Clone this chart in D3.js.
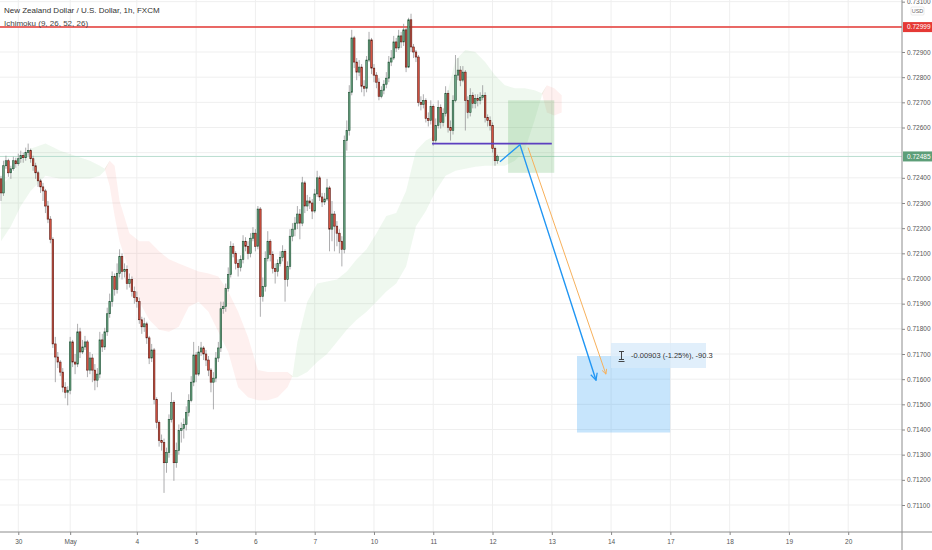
<!DOCTYPE html>
<html>
<head>
<meta charset="utf-8">
<script src="https://cdn.jsdelivr.net/npm/d3@7"></script>
<style>
  body { margin: 0; background: #fff; }
  svg { display: block; }
  text { font-family: "Liberation Sans Narrow", "Liberation Sans", sans-serif; }
</style>
</head>
<body>
<svg id="chart" width="932" height="550"></svg>
<script>
// prices are kept in 1e-5 units (pipettes)
const PT = 1e-5;
const firstOpen = 72396;

const closes = [
  72340,72448,72468,72420,72436,72468,72456,72476,72488,72480,
  72500,72508,72476,72448,72420,72388,72364,72348,72288,72236,
  72156,71740,71688,71668,71628,71568,71548,71556,71748,71668,
  71660,71788,71708,71728,71748,71636,71684,71636,71596,71620,
  71756,71728,71788,71860,71908,72008,71956,72020,72088,72028,
  72036,71980,71996,71948,71924,71908,71836,71808,71820,71764,
  71684,71716,71520,71428,71356,71348,71268,71308,71440,71508,
  71268,71316,71396,71404,71420,71468,71516,71588,71696,71620,
  71708,71724,71700,71676,71636,71588,71604,71684,71724,71880,
  71888,71960,72016,72128,72100,72060,72044,72076,72148,72128,
  72100,72160,72180,72128,72276,71928,71968,72080,72148,72096,
  72040,72028,72060,72084,72108,71996,72048,72168,72196,72220,
  72256,72220,72380,72288,72308,72300,72268,72336,72400,72324,
  72304,72316,72360,72196,72256,72208,72180,72148,72116,72548,
  72588,72740,72956,72860,72820,72840,72764,72756,72868,72948,
  72836,72808,72780,72724,72748,72772,72796,72860,72876,72940,
  72916,72964,72940,72988,72840,73028,72920,72900,72880,72700,
  72692,72708,72636,72628,72684,72548,72608,72680,72620,72656,
  72736,72600,72588,72708,72808,72828,72788,72820,72708,72660,
  72728,72696,72716,72708,72720,72728,72640,72628,72608,72516,
  72468,72485
];

const highs = [
  72408,72468,72488,72476,72448,72484,72480,72496,72508,72500,
  72520,72536,72516,72488,72460,72428,72396,72380,72356,72308,
  72248,72164,71768,71708,71676,71644,71588,71572,71768,71756,
  71700,71820,71804,71756,71772,71756,71708,71700,71660,71644,
  71788,71780,71804,71884,71940,72028,72020,72060,72116,72100,
  72060,72052,72020,72008,71968,71948,71924,71848,71844,71828,
  71772,71740,71724,71528,71436,71380,71364,71328,71460,71548,
  71516,71348,71420,71428,71444,71492,71540,71612,71748,71708,
  71732,71748,71732,71716,71692,71644,71628,71708,71748,71908,
  71908,71980,72044,72148,72140,72108,72076,72092,72172,72164,
  72148,72180,72204,72196,72288,72284,72004,72108,72188,72156,
  72108,72060,72076,72108,72132,72116,72068,72196,72220,72244,
  72288,72276,72404,72388,72332,72324,72316,72356,72428,72408,
  72340,72340,72396,72368,72308,72268,72228,72196,72168,72568,
  72628,72768,72988,72964,72876,72868,72852,72788,72884,72980,
  72956,72852,72820,72796,72764,72788,72820,72884,72908,72964,
  72956,72988,72980,73012,72996,73036,73052,72932,72908,72888,
  72724,72732,72716,72660,72708,72692,72636,72708,72692,72676,
  72764,72748,72628,72728,72888,72876,72844,72844,72828,72724,
  72756,72740,72732,72732,72740,72768,72740,72652,72644,72620,
  72524,72492
];

const lows = [
  72308,72328,72436,72404,72396,72428,72440,72448,72460,72460,
  72468,72488,72460,72428,72396,72364,72340,72308,72260,72220,
  72140,71724,71588,71644,71612,71548,71524,71496,71540,71648,
  71620,71648,71684,71700,71716,71608,71620,71588,71556,71568,
  71604,71708,71716,71772,71844,71888,71932,71940,72004,71996,
  72004,71956,71964,71928,71900,71884,71820,71780,71788,71740,
  71660,71668,71500,71404,71332,71316,71148,71228,71288,71428,
  71196,71248,71300,71348,71364,71396,71452,71508,71572,71588,
  71612,71692,71676,71652,71612,71548,71480,71588,71668,71708,
  71860,71868,71948,72004,72084,72036,72008,72028,72060,72108,
  72076,72084,72148,72108,72116,71848,71908,71948,72068,72068,
  72020,71980,72008,72048,72068,71908,71968,72036,72148,72168,
  72196,72156,72208,72260,72268,72276,72236,72260,72324,72308,
  72284,72292,72308,72108,72148,72108,72128,72100,72048,72100,
  72508,72568,72728,72836,72788,72804,72740,72724,72740,72860,
  72812,72780,72756,72708,72716,72732,72756,72780,72844,72868,
  72900,72908,72916,72924,72820,72836,72900,72876,72860,72684,
  72668,72676,72620,72604,72612,72528,72540,72596,72596,72604,
  72644,72580,72548,72572,72700,72788,72764,72780,72588,72636,
  72644,72676,72676,72684,72692,72708,72620,72604,72588,72500,
  72448,72456
];

// Ichimoku cloud (leading spans, already shifted), sampled by bar index
const cloudBars = [0,4,8,12,18,24,30,36,40,42,44,46,48,52,56,60,64,68,72,76,80,84,88,92,96,100,104,108,112,116,118,
  120,124,128,132,136,140,144,148,152,156,160,164,166,168,172,176,180,184,188,192,196,200,204,208,212,216,219,221,224,227];
const spanA = [72368,72408,72468,72516,72536,72508,72488,72468,72448,72436,72368,72248,72148,72028,71908,71836,71796,71788,71808,71888,71908,71868,71788,71708,71568,71528,71516,71516,71528,71568,71612,
  71748,71908,71980,71988,71996,72028,72076,72116,72180,72248,72260,72348,72428,72508,72548,72568,72708,72868,72908,72900,72860,72808,72768,72756,72756,72748,72736,72660,72648,72660];
const spanB = [72148,72208,72288,72348,72408,72396,72396,72396,72408,72428,72468,72448,72308,72180,72148,72148,72108,72076,72060,72044,72028,72020,72008,71948,71868,71768,71636,71628,71628,71628,71608,
  71608,71628,71668,71700,71748,71796,71836,71868,71908,71948,71980,72048,72128,72208,72268,72348,72408,72428,72436,72444,72448,72448,72448,72468,72508,72628,72728,72768,72756,72728];

// axis labels
const dayLabels = ["30","May","4","5","6","7","10","11","12","13","14","17","18","19","20"];
const dayBars = [7,28,55,79,103,127,151,175,199,223,247,271,295,319,343];
const priceTicks = d3.range(711, 732).map(v => v / 1000);

// drawings (bar index, price)
const resistance = 0.72999;
const lastPrice = 0.72485;
const neckline = { from: 174.5, to: 223, price: 0.72536 };
const longBox = { from: 205.3, to: 224, top: 0.72708, bottom: 0.72420 };
const forecastPath = [[202, 0.72464], [210.1, 0.72532], [240.9, 0.71596]];
const altPath = [[213.4, 0.72520], [244.9, 0.71620]];
const measureBox = { from: 233.2, to: 270.9, top: 0.71692, bottom: 0.71388 };
const measureText = "-0.00903 (-1.25%), -90.3";

const W = 932, H = 550, axisX = 902, axisY = 532;
const svg = d3.select("#chart");

const x = d3.scaleLinear().domain([0, 100]).range([1, 248]);
const y = d3.scaleLinear().domain([0.711, 0.729]).range([505, 52]);

svg.append("rect").attr("width", W).attr("height", H).attr("fill", "white");

svg.append("defs").append("clipPath").attr("id", "plot")
  .append("rect").attr("width", axisX).attr("height", axisY);

const plot = svg.append("g").attr("clip-path", "url(#plot)");

// grid
plot.append("g").selectAll("line").data(priceTicks).join("line")
  .attr("x1", 0).attr("x2", axisX)
  .attr("y1", d => y(d)).attr("y2", d => y(d))
  .attr("stroke", "#efefef").attr("stroke-width", 1);
plot.append("g").selectAll("line").data(dayBars).join("line")
  .attr("x1", d => x(d)).attr("x2", d => x(d))
  .attr("y1", 0).attr("y2", axisY)
  .attr("stroke", "#efefef").attr("stroke-width", 1);

// cloud: green where span A above span B, red otherwise
const cloud = cloudBars.map((b, i) => ({ b, a: spanA[i] * PT, s: spanB[i] * PT }));
plot.append("path").datum(cloud)
  .attr("fill", "rgba(76,175,80,0.09)")
  .attr("d", d3.area().x(d => x(d.b)).y0(d => y(d.s)).y1(d => y(Math.max(d.a, d.s))));
plot.append("path").datum(cloud)
  .attr("fill", "rgba(244,67,54,0.08)")
  .attr("d", d3.area().x(d => x(d.b)).y0(d => y(d.a)).y1(d => y(Math.max(d.a, d.s))));

// resistance + last price lines
plot.append("line")
  .attr("x1", 0).attr("x2", axisX).attr("y1", y(resistance)).attr("y2", y(resistance))
  .attr("stroke", "#e53935").attr("stroke-width", 1.5);
plot.append("line")
  .attr("x1", 0).attr("x2", axisX).attr("y1", y(lastPrice)).attr("y2", y(lastPrice))
  .attr("stroke", "#b9ddd0").attr("stroke-width", 1);

// candles
const bars = d3.range(closes.length).map(i => ({
  i,
  o: (i === 0 ? firstOpen : closes[i - 1]) * PT,
  c: closes[i] * PT,
  h: highs[i] * PT,
  l: lows[i] * PT
}));

const candles = plot.append("g").selectAll("g").data(bars).join("g");
candles.append("line")
  .attr("x1", d => x(d.i)).attr("x2", d => x(d.i))
  .attr("y1", d => y(d.h)).attr("y2", d => y(d.l))
  .attr("stroke", "#8a8a8c").attr("stroke-width", 0.7);
candles.append("rect")
  .attr("x", d => x(d.i) - 0.8)
  .attr("width", 1.6)
  .attr("y", d => y(Math.max(d.o, d.c)))
  .attr("height", d => Math.max(0.8, Math.abs(y(d.o) - y(d.c))))
  .attr("fill", d => d.c >= d.o ? "#6ba583" : "#d75442")
  .attr("stroke", d => d.c >= d.o ? "#225437" : "#5b1a13")
  .attr("stroke-width", 0.6);

// drawings
const defs = svg.select("defs");
[["arrow-blue", "#2196f3"], ["arrow-orange", "#f7b05b"]].forEach(([id, col]) => {
  defs.append("marker").attr("id", id)
    .attr("viewBox", "0 0 10 10").attr("refX", 9).attr("refY", 5)
    .attr("markerWidth", 6).attr("markerHeight", 6).attr("orient", "auto")
    .append("path").attr("d", "M1,1 L9,5 L1,9")
    .attr("fill", "none").attr("stroke", col).attr("stroke-width", 1.5);
});

plot.append("rect")
  .attr("x", x(longBox.from)).attr("width", x(longBox.to) - x(longBox.from))
  .attr("y", y(longBox.top)).attr("height", y(longBox.bottom) - y(longBox.top))
  .attr("fill", "rgba(76,175,80,0.22)");

plot.append("line")
  .attr("x1", x(neckline.from)).attr("x2", x(neckline.to))
  .attr("y1", y(neckline.price)).attr("y2", y(neckline.price))
  .attr("stroke", "#5c3fc0").attr("stroke-width", 1.6);

const line = d3.line().x(d => x(d[0])).y(d => y(d[1]));

plot.append("rect")
  .attr("x", x(measureBox.from)).attr("width", x(measureBox.to) - x(measureBox.from))
  .attr("y", y(measureBox.top)).attr("height", y(measureBox.bottom) - y(measureBox.top))
  .attr("fill", "rgba(33,150,243,0.25)");

plot.append("path").datum(altPath)
  .attr("d", line).attr("fill", "none")
  .attr("stroke", "#f7b05b").attr("stroke-width", 1)
  .attr("marker-end", "url(#arrow-orange)");

plot.append("path").datum(forecastPath)
  .attr("d", line).attr("fill", "none")
  .attr("stroke", "#2196f3").attr("stroke-width", 1.4)
  .attr("marker-end", "url(#arrow-blue)");

// measure label
const lblX = x(measureBox.from) + 34, lblY = y(measureBox.top) - 13;
const lbl = plot.append("g").attr("transform", `translate(${lblX},${lblY})`);
lbl.append("rect").attr("width", 95).attr("height", 25).attr("fill", "rgba(215,233,250,0.75)");
lbl.append("path")
  .attr("d", "M8,8.5 H13 M8,16.5 H13 M10.5,8.5 V16.5 M7.5,18.5 H13.5")
  .attr("stroke", "#333").attr("stroke-width", 0.9).attr("fill", "none");
lbl.append("text").attr("x", 20).attr("y", 14.5)
  .attr("font-size", 7.5).attr("fill", "#333").text(measureText);

// price axis (labels hidden where a price tag sits on top)
const tagged = [resistance, lastPrice];
const yAxis = svg.append("g").attr("transform", `translate(${axisX},0)`)
  .call(d3.axisRight(y).tickValues(priceTicks).tickFormat(d3.format(".5f")).tickSize(3));
yAxis.select(".domain").remove();
yAxis.selectAll("line").attr("stroke", "#888");
yAxis.selectAll("text").attr("font-size", 6.5).attr("fill", "#555").attr("x", 5);
yAxis.selectAll(".tick")
  .filter(d => tagged.some(p => Math.abs(y(p) - y(d)) < 9))
  .remove();

svg.append("line").attr("x1", axisX).attr("x2", axisX).attr("y1", 0).attr("y2", H)
  .attr("stroke", "#8c8c8c").attr("stroke-width", 1);

// time axis
const xAxis = svg.append("g").attr("transform", `translate(0,${axisY})`)
  .call(d3.axisBottom(x).tickValues(dayBars).tickFormat((d, i) => dayLabels[i]).tickSize(3));
xAxis.select(".domain").remove();
xAxis.selectAll("line").attr("stroke", "#888");
xAxis.selectAll("text").attr("font-size", 6.5).attr("fill", "#555").attr("dy", "0.9em");

svg.append("line").attr("x1", 0).attr("x2", W).attr("y1", axisY).attr("y2", axisY)
  .attr("stroke", "#8c8c8c").attr("stroke-width", 1);

// price tags
function priceTag(p, fill) {
  const g = svg.append("g").attr("transform", `translate(${axisX + 1},${y(p)})`);
  g.append("rect").attr("x", 0).attr("y", -5).attr("width", 29).attr("height", 10).attr("fill", fill);
  g.append("text").attr("x", 4).attr("y", 2.3).attr("font-size", 6.5).attr("fill", "white")
    .text(d3.format(".5f")(p));
}
priceTag(resistance, "#e53935");
priceTag(lastPrice, "#5d9e78");

// currency label
const cur = svg.append("g").attr("transform", `translate(${axisX + 9},7)`);
cur.append("rect").attr("width", 13).attr("height", 8).attr("fill", "white")
  .attr("stroke", "#ddd").attr("stroke-width", 0.6).attr("rx", 1);
cur.append("text").attr("x", 6.5).attr("y", 6).attr("text-anchor", "middle")
  .attr("font-size", 5.5).attr("fill", "#666").text("USD");

// legend
svg.append("text").attr("x", 4).attr("y", 13).attr("font-size", 8).attr("fill", "#333")
  .text("New Zealand Dollar / U.S. Dollar, 1h, FXCM");
svg.append("text").attr("x", 4).attr("y", 25.5).attr("font-size", 8).attr("fill", "#444")
  .text("Ichimoku (9, 26, 52, 26)");
</script>
</body>
</html>
